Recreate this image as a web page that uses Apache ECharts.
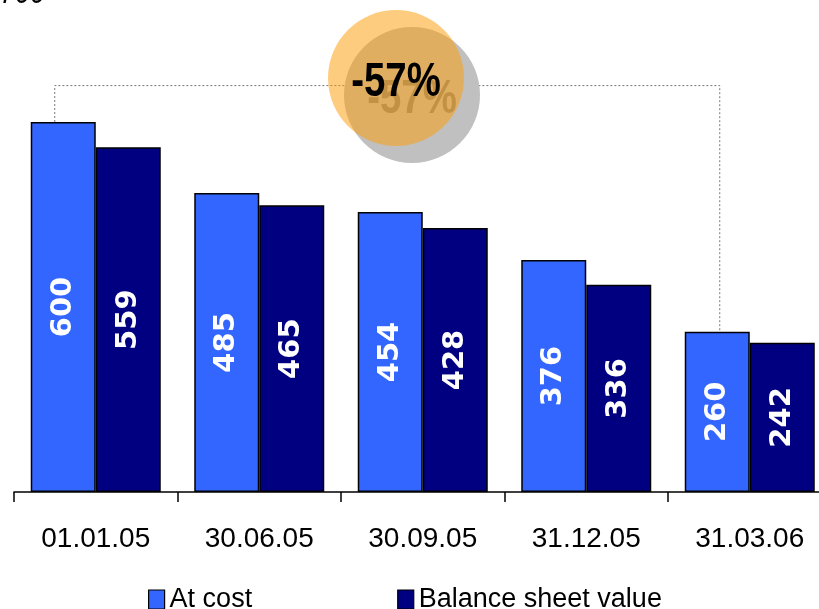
<!DOCTYPE html>
<html>
<head>
<meta charset="utf-8">
<script src="https://cdn.jsdelivr.net/npm/echarts@6/dist/echarts.min.js"></script>
<style>
  html, body { margin: 0; padding: 0; background: #fff; }
  #chart { width: 819px; height: 609px; }
</style>
</head>
<body>
<div id="chart"></div>
<script>
// Portfolio values per reporting date
const categories = ['01.01.05', '30.06.05', '30.09.05', '31.12.05', '31.03.06'];
const atCost = [600, 485, 454, 376, 260];
const balanceSheetValue = [559, 465, 428, 336, 242];
const seriesNames = ['At cost', 'Balance sheet value'];
const axisTopLabel = '700';

const SANS = "'Liberation Sans', Arial, sans-serif";
const chart = echarts.init(document.getElementById('chart'));

const barLabel = {
  show: true,
  position: 'inside',
  rotate: 90,
  color: '#fff',
  fontFamily: "'DejaVu Sans', sans-serif",
  fontWeight: 'bold',
  fontSize: 29
};

chart.setOption({
  animation: false,
  grid: { left: 14, top: 60.3, width: 817.5, bottom: 117, containLabel: false, outerBoundsMode: 'none' },
  xAxis: {
    type: 'category',
    data: categories,
    boundaryGap: true,
    axisLine: { show: true, lineStyle: { color: '#000', width: 1.5 } },
    axisTick: { show: true, length: 10, inside: false, alignWithLabel: false, interval: 0, lineStyle: { color: '#000', width: 1.5 } },
    axisLabel: { interval: 0, margin: 33, color: '#000', fontFamily: SANS, fontSize: 28 }
  },
  yAxis: {
    type: 'value', min: 0, max: 700, show: false,
    splitLine: { show: false }
  },
  legend: {
    left: 143, top: 581,
    icon: 'rect', itemWidth: 16, itemHeight: 19, itemGap: 145,
    itemStyle: { borderColor: '#000', borderWidth: 1.2 },
    textStyle: { color: '#000', fontFamily: SANS, fontSize: 27 },
    data: seriesNames
  },
  series: [
    {
      name: seriesNames[0], type: 'bar', data: atCost,
      barWidth: 65, barGap: '0%',
      itemStyle: { color: '#3366FF', borderColor: '#000', borderWidth: 1.5 },
      label: barLabel
    },
    {
      name: seriesNames[1], type: 'bar', data: balanceSheetValue,
      barWidth: 65, barGap: '0%',
      itemStyle: { color: '#000080', borderColor: '#000', borderWidth: 1.5 },
      label: barLabel
    }
  ]
});

// Bracket between first and last "At cost" bar, with the change badge
function drawOverlay() {
  const lastIdx = categories.length - 1;
  const xFirst = chart.convertToPixel({ xAxisIndex: 0 }, categories[0]);
  const xLast = chart.convertToPixel({ xAxisIndex: 0 }, categories[lastIdx]);
  const yFirst = chart.convertToPixel({ yAxisIndex: 0 }, atCost[0]);
  const yLast = chart.convertToPixel({ yAxisIndex: 0 }, atCost[lastIdx]);
  const yBracket = chart.convertToPixel({ yAxisIndex: 0 }, 659);
  const xL = xFirst - 41;
  const xR = xLast - 30;
  const change = Math.round((atCost[lastIdx] - atCost[0]) / atCost[0] * 100);
  const changeText = (change > 0 ? '+' : '') + change + '%';
  const badgeFont = "bold 48px 'Liberation Sans', Arial, sans-serif";

  chart.setOption({
    graphic: [
      {
        type: 'polyline', silent: true,
        shape: { points: [[xL, yFirst], [xL, yBracket], [xR, yBracket], [xR, yLast]] },
        style: { stroke: '#777', lineWidth: 1, lineDash: [2, 2], fill: null }
      },
      { type: 'circle', silent: true, shape: { cx: 412, cy: 95, r: 68 }, style: { fill: '#c0c0c0' } },
      {
        type: 'text', silent: true, x: 412, y: 100, scaleX: 0.8,
        style: { text: changeText, font: badgeFont, fill: '#858585', align: 'center', verticalAlign: 'middle' }
      },
      { type: 'circle', silent: true, shape: { cx: 396, cy: 78, r: 68 }, style: { fill: 'rgba(253,157,7,0.52)' } },
      {
        type: 'text', silent: true, x: 396, y: 83, scaleX: 0.8,
        style: { text: changeText, font: badgeFont, fill: '#000', align: 'center', verticalAlign: 'middle' }
      },
      {
        type: 'text', silent: true, x: 0, y: -6, scaleX: 0.82,
        style: { text: axisTopLabel, font: "italic 33px 'Liberation Sans', Arial, sans-serif", fill: '#000', align: 'left', verticalAlign: 'middle' }
      }
    ]
  });
}
drawOverlay();
</script>
</body>
</html>
